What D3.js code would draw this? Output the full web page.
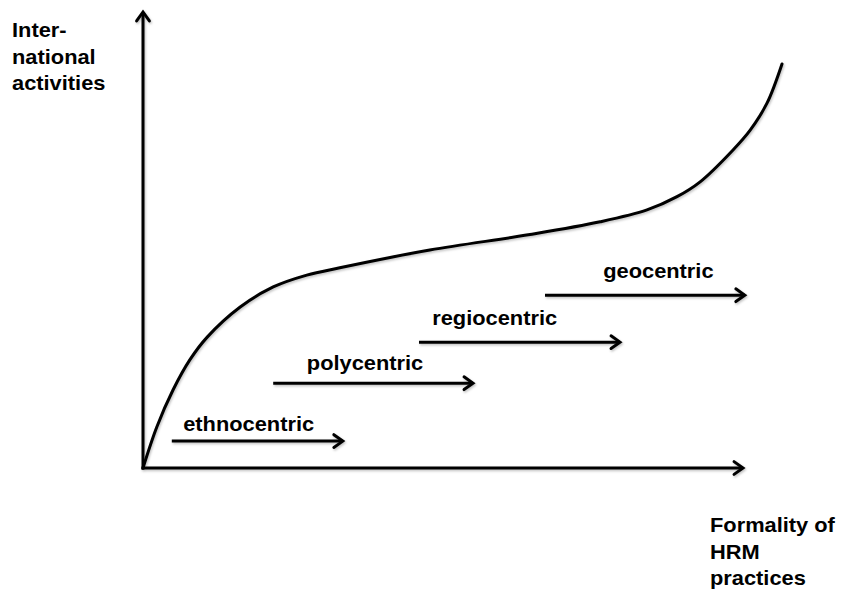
<!DOCTYPE html>
<html><head><meta charset="utf-8">
<script src="https://cdn.jsdelivr.net/npm/d3@7"></script>
<style>html,body{margin:0;padding:0;background:#fff;}svg{display:block;}</style>
</head><body>
<svg id="chart" width="841" height="589"></svg>
<script>
// Curve (formality of HRM vs international activities), in axis units 0..100
const curveX = [0, 2.3, 5, 7.8, 10.7, 16.2, 21.7, 27.3, 32.8, 47.8, 64.5, 76.2, 84, 89, 92.8, 98.3, 101.2, 104, 106.5];
const curveY = [0, 9, 17.1, 23.7, 28.7, 35.3, 39.7, 42.3, 43.9, 47.8, 51.2, 54.0, 56.6, 59.5, 62.7, 69.7, 74.1, 80, 88.6];
// Stages (arrows)
const stageNames = ["ethnocentric", "polycentric", "regiocentric", "geocentric"];
const stageStart = [4.8, 21.7, 46, 67];
const stageEnd = [33.3, 55, 79.5, 100.3];
const stageLevel = [5.9, 18.6, 27.6, 37.9];
const stageLabelX = [6.7, 27.3, 48.2, 76.7];
const stageLabelY = [8.1, 21.5, 31.4, 41.7];
const yTitle = ["Inter-", "national", "activities"];
const xTitle = ["Formality of", "HRM", "practices"];

const svg = d3.select("#chart");
const x = d3.scaleLinear().domain([0, 100]).range([143, 743]);
const y = d3.scaleLinear().domain([0, 100]).range([468, 12]);

const defs = svg.append("defs");
const f = defs.append("filter").attr("id", "sh").attr("x", "-10%").attr("y", "-10%").attr("width", "130%").attr("height", "130%");
f.append("feDropShadow").attr("dx", 1).attr("dy", 1.5).attr("stdDeviation", 1).attr("flood-color", "#000").attr("flood-opacity", 0.25);

const g = svg.append("g").attr("filter", "url(#sh)");

function arrow(x1, y1, x2, y2) {
  g.append("line").attr("x1", x1).attr("y1", y1).attr("x2", x2).attr("y2", y2)
    .attr("stroke", "#000").attr("stroke-width", 3).attr("stroke-linecap", "butt");
  const ang = Math.atan2(y2 - y1, x2 - x1);
  const L = 11, W = 0.62;
  const p = [
    [x2 - L * Math.cos(ang - W), y2 - L * Math.sin(ang - W)],
    [x2, y2],
    [x2 - L * Math.cos(ang + W), y2 - L * Math.sin(ang + W)]
  ];
  g.append("path").attr("d", d3.line()(p)).attr("fill", "none")
    .attr("stroke", "#000").attr("stroke-width", 3).attr("stroke-linejoin", "miter").attr("stroke-linecap", "round");
}

// Axes
arrow(x(0), y(0) + 1.5, x(0), y(100));
arrow(x(0) - 1.5, y(0), x(100), y(0));

// Curve
const pts = curveX.map((v, i) => [x(v), y(curveY[i])]);
g.append("path").attr("d", d3.line().curve(d3.curveCatmullRom.alpha(0.5))(pts))
  .attr("fill", "none").attr("stroke", "#000").attr("stroke-width", 3).attr("stroke-linecap", "round");

// Stage arrows
stageNames.forEach((n, i) => {
  arrow(x(stageStart[i]), y(stageLevel[i]), x(stageEnd[i]), y(stageLevel[i]));
});

const font = "'Liberation Sans', Arial, sans-serif";
const tg = svg.append("g").attr("font-family", font).attr("font-weight", "bold").attr("font-size", 19.5).attr("fill", "#000");

function label(txt, px, py) {
  tg.append("text").attr("transform", `translate(${px},${py}) scale(1.12,1)`).text(txt);
}
stageNames.forEach((n, i) => label(n, x(stageLabelX[i]), y(stageLabelY[i])));
yTitle.forEach((t, i) => label(t, 12, 37 + i * 26.5));
xTitle.forEach((t, i) => label(t, 710, 532 + i * 26.5));
</script>
</body></html>
